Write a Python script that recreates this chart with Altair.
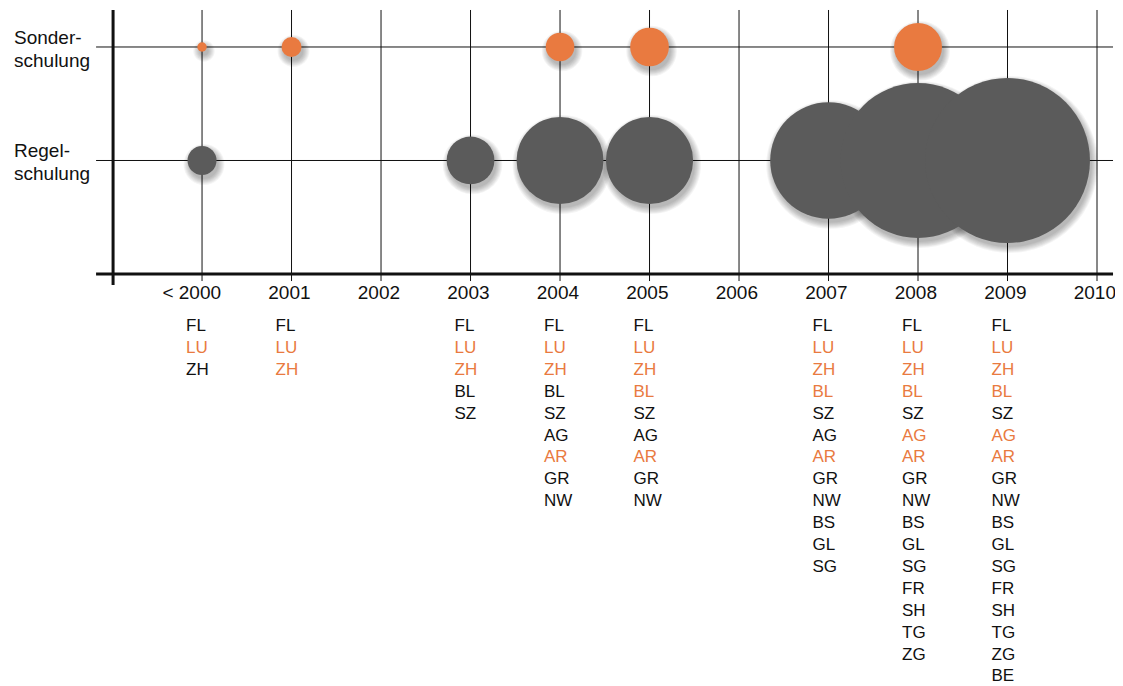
import altair as alt
import pandas as pd

# ---------------- data ----------------
PERIODS = ["< 2000", "2001", "2002", "2003", "2004", "2005", "2006", "2007", "2008", "2009", "2010"]
ROW_NAMES = ["Sonderschulung", "Regelschulung"]
ROW_LABELS = ["Sonder-\nschulung", "Regel-\nschulung"]
ROW_LEVELS = [2, 1]

SONDER_PERIODS = ["< 2000", "2001", "2004", "2005", "2008"]
SONDER_VALUES = [0.9, 4.0, 8.2, 15.0, 23.0]
REGEL_PERIODS = ["< 2000", "2003", "2004", "2005", "2007", "2008", "2009"]
REGEL_VALUES = [8.4, 22.8, 75.5, 76.0, 136.0, 240.0, 272.0]

CANTONS = {
    "< 2000": ["FL", "LU", "ZH"],
    "2001": ["FL", "LU", "ZH"],
    "2003": ["FL", "LU", "ZH", "BL", "SZ"],
    "2004": ["FL", "LU", "ZH", "BL", "SZ", "AG", "AR", "GR", "NW"],
    "2005": ["FL", "LU", "ZH", "BL", "SZ", "AG", "AR", "GR", "NW"],
    "2007": ["FL", "LU", "ZH", "BL", "SZ", "AG", "AR", "GR", "NW", "BS", "GL", "SG"],
    "2008": ["FL", "LU", "ZH", "BL", "SZ", "AG", "AR", "GR", "NW", "BS", "GL", "SG", "FR", "SH", "TG", "ZG"],
    "2009": ["FL", "LU", "ZH", "BL", "SZ", "AG", "AR", "GR", "NW", "BS", "GL", "SG", "FR", "SH", "TG", "ZG", "BE"],
}
# cantons shown in orange (Sonderschulung)
ORANGE_CANTONS = {
    "< 2000": ["LU"],
    "2001": ["LU", "ZH"],
    "2003": ["LU", "ZH"],
    "2004": ["LU", "ZH", "AR"],
    "2005": ["LU", "ZH", "BL", "AR"],
    "2007": ["LU", "ZH", "BL", "AR"],
    "2008": ["LU", "ZH", "BL", "AG", "AR"],
    "2009": ["LU", "ZH", "BL", "AG", "AR"],
}

# ---------------- style / layout ----------------
ORANGE = "#E97A40"
GREY = "#5B5B5B"
BLACK = "#111111"
FONT = "Liberation Sans"
W, H = 1107, 678

X_DOMAIN = [-2.168, 10.201]
Y_DOMAIN = [-3.630, 2.3436]
LIST_DOMAIN = [-14.521, 16.438]

X_AXIS_LEFT = -1.184
Y_AXIS_X = -0.994
X_RIGHT = 10.179
TOP_LEVEL = 2.326
AXIS_LEVEL = 0.0
Y_AXIS_BOTTOM = -0.097
TICK_BOTTOM = -0.062
YEAR_LABEL_LEVEL = -0.167
ROW_LABEL_X = -2.101

xs = alt.Scale(domain=X_DOMAIN, nice=False, zero=False)
ys = alt.Scale(domain=Y_DOMAIN, nice=False, zero=False)
ls = alt.Scale(domain=LIST_DOMAIN, nice=False, zero=False, reverse=True)
ss = alt.Scale(type="linear", domain=[0, 272], range=[0, 27200], zero=True, clamp=False)


def X(f):
    return alt.X(f, type="quantitative", scale=xs, axis=None)


def Y(f):
    return alt.Y(f, type="quantitative", scale=ys, axis=None)


# ---------------- tables ----------------
period_df = pd.DataFrame({
    "label": PERIODS,
    "idx": list(range(len(PERIODS))),
    "top": TOP_LEVEL,
    "bottom": TICK_BOTTOM,
    "ylab": YEAR_LABEL_LEVEL,
})

rows_df = pd.DataFrame({
    "row": ROW_NAMES,
    "label": ROW_LABELS,
    "level": ROW_LEVELS,
    "x1": X_AXIS_LEFT,
    "x2": X_RIGHT,
    "lx": ROW_LABEL_X,
})

frame_x = pd.DataFrame({"x1": [X_AXIS_LEFT], "x2": [X_RIGHT], "y": [AXIS_LEVEL]})
frame_y = pd.DataFrame({"x": [Y_AXIS_X], "y1": [TOP_LEVEL], "y2": [Y_AXIS_BOTTOM]})

brecs = []
for p, v in zip(SONDER_PERIODS, SONDER_VALUES):
    brecs.append({"row": "Sonderschulung", "level": 2, "idx": PERIODS.index(p), "v": v})
for p, v in zip(REGEL_PERIODS, REGEL_VALUES):
    brecs.append({"row": "Regelschulung", "level": 1, "idx": PERIODS.index(p), "v": v})
bubbles_df = pd.DataFrame(brecs).sort_values(["idx", "level"], ascending=[True, False]).reset_index(drop=True)
bubbles_df["ord"] = range(len(bubbles_df))

crecs = []
for p, codes in CANTONS.items():
    for r, c in enumerate(codes):
        crecs.append({
            "idx": PERIODS.index(p),
            "r": r,
            "code": c,
            "status": "S" if c in ORANGE_CANTONS[p] else "R",
        })
cantons_df = pd.DataFrame(crecs)

# ---------------- layers ----------------
vgrid = alt.Chart(period_df).mark_rule(color=BLACK, strokeWidth=1).encode(
    x=X("idx"), y=Y("top"), y2="bottom"
)
hgrid = alt.Chart(rows_df).mark_rule(color=BLACK, strokeWidth=1).encode(
    x=X("x1"), x2="x2", y=Y("level")
)
x_axis = alt.Chart(frame_x).mark_rule(color=BLACK, strokeWidth=3).encode(
    x=X("x1"), x2="x2", y=Y("y")
)
y_axis = alt.Chart(frame_y).mark_rule(color=BLACK, strokeWidth=3).encode(
    x=X("x"), y=Y("y1"), y2="y2"
)

# soft drop shadow built from translucent rings
shadows = []
for k in [0.0, 0.2, 0.4, 0.6, 0.8, 1.0, 1.2]:
    shadows.append(
        alt.Chart(bubbles_df)
        .transform_calculate(sv=f"pow(sqrt(datum.v) + {k}, 2)")
        .mark_circle(color="black", opacity=0.045, xOffset=2, yOffset=4)
        .encode(x=X("idx"), y=Y("level"), size=alt.Size("sv:Q", scale=ss, legend=None))
    )

bubbles = alt.Chart(bubbles_df).mark_circle(opacity=1).encode(
    x=X("idx"),
    y=Y("level"),
    size=alt.Size("v:Q", scale=ss, legend=None),
    color=alt.Color("row:N", scale=alt.Scale(domain=ROW_NAMES, range=[ORANGE, GREY]), legend=None),
    order=alt.Order("ord:Q"),
)

years = alt.Chart(period_df).mark_text(
    font=FONT, fontSize=19, align="right", baseline="middle", dx=19, color=BLACK
).encode(x=X("idx"), y=Y("ylab"), text="label:N")

row_labels = alt.Chart(rows_df).mark_text(
    font=FONT, fontSize=19, align="left", baseline="middle", lineBreak="\n", lineHeight=23,
    dy=-9, color=BLACK
).encode(x=X("lx"), y=Y("level"), text="label:N")

main = alt.layer(vgrid, hgrid, x_axis, y_axis, *shadows, bubbles, years, row_labels)

canton_text = alt.Chart(cantons_df).mark_text(
    font=FONT, fontSize=17, align="left", baseline="middle", dx=-16
).encode(
    x=X("idx"),
    y=alt.Y("r:Q", scale=ls, axis=None),
    text="code:N",
    color=alt.Color("status:N", scale=alt.Scale(domain=["S", "R"], range=[ORANGE, BLACK]), legend=None),
)

chart = (
    alt.layer(main, canton_text)
    .resolve_scale(y="independent", color="independent")
    .properties(width=W, height=H, padding=0, autosize="none", background="white")
    .configure_view(stroke=None)
)

chart.save("out.html", embed_options={"renderer": "svg", "actions": False})
